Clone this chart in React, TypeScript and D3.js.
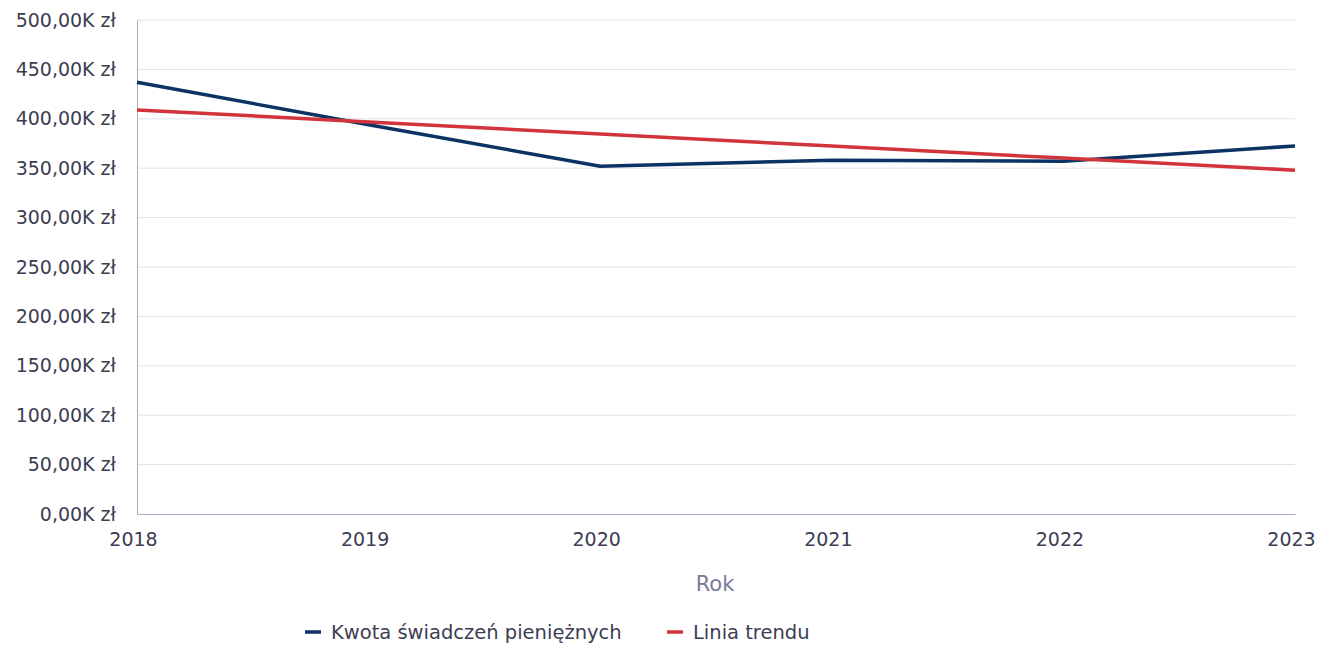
import * as d3 from "d3";
import { useEffect, useRef } from "react";

const years = [2018, 2019, 2020, 2021, 2022, 2023];
const amounts = [437000, 394000, 352000, 358000, 357000, 372500];
const trend = [409000, 396800, 384600, 372400, 360200, 348000];
const yTicks = [0, 50000, 100000, 150000, 200000, 250000, 300000, 350000, 400000, 450000, 500000];
const seriesNames = ["Kwota świadczeń pieniężnych", "Linia trendu"];
const seriesColors = ["#0b3363", "#d1343a"];

const W = 1329;
const H = 645;
const FONT = "'DejaVu Sans', sans-serif";

function App() {
	const ref = useRef<SVGSVGElement | null>(null);

	useEffect(() => {
		const svg = d3.select(ref.current);
		svg.selectAll("*").remove();

		const margin = { left: 137, right: 34, top: 20, bottom: 131 };
		const width = W - margin.left - margin.right;
		const height = H - margin.top - margin.bottom;

		const x = d3
			.scaleLinear()
			.domain([years[0], years[years.length - 1]])
			.range([0, width]);
		const y = d3.scaleLinear().domain([0, 500000]).range([height, 0]);

		const g = svg
			.append("g")
			.attr("transform", `translate(${margin.left},${margin.top})`);

		// grid
		g.selectAll(".grid")
			.data(yTicks.slice(1))
			.enter()
			.append("line")
			.attr("x1", 0)
			.attr("x2", width)
			.attr("y1", (d) => y(d))
			.attr("y2", (d) => y(d))
			.attr("stroke", "#e1e1ec")
			.attr("stroke-width", 1);

		const fmt = (d: number) =>
			(d / 1000).toFixed(2).replace(".", ",") + "K zł";

		const yAxis = g
			.append("g")
			.call(
				d3
					.axisLeft(y)
					.tickValues(yTicks)
					.tickSize(0)
					.tickPadding(21)
					.tickFormat((d) => fmt(d as number))
			);
		yAxis.select(".domain").attr("stroke", "#a9abc8");
		yAxis
			.selectAll("text")
			.attr("fill", "#3b3d52")
			.attr("font-size", 19)
			.attr("font-family", FONT);

		const xAxis = g
			.append("g")
			.attr("transform", `translate(0,${height})`)
			.call(
				d3
					.axisBottom(x)
					.tickValues(years)
					.tickSize(0)
					.tickPadding(19)
					.tickFormat((d) => String(d))
			);
		xAxis.select(".domain").attr("stroke", "#a9abc8");
		xAxis
			.selectAll("text")
			.attr("fill", "#3b3d52")
			.attr("font-size", 19)
			.attr("dx", -4)
			.attr("font-family", FONT);

		g.append("text")
			.attr("x", width / 2 - 1)
			.attr("y", height + 77)
			.attr("text-anchor", "middle")
			.attr("fill", "#7a7b9c")
			.attr("font-size", 21)
			.attr("font-family", FONT)
			.text("Rok");

		const line = d3
			.line<number>()
			.x((_, i) => x(years[i]))
			.y((d) => y(d));

		[amounts, trend].forEach((vals, i) => {
			g.append("path")
				.datum(vals)
				.attr("d", line)
				.attr("fill", "none")
				.attr("stroke", seriesColors[i])
				.attr("stroke-width", 3.5)
				.attr("stroke-linejoin", "round");
		});

		// legend
		const legend = svg.append("g").attr("transform", "translate(305,632)");
		const offsets = [0, 362];
		seriesNames.forEach((name, i) => {
			const item = legend
				.append("g")
				.attr("transform", `translate(${offsets[i]},0)`);
			item.append("line")
				.attr("x1", 0)
				.attr("x2", 16)
				.attr("stroke", seriesColors[i])
				.attr("stroke-width", 3.5);
			item.append("text")
				.attr("x", 26)
				.attr("dy", "0.35em")
				.attr("fill", "#3b3d52")
				.attr("font-size", 19.5)
				.attr("font-family", FONT)
				.text(name);
		});
	}, []);

	return (
		<svg
			ref={ref}
			width={W}
			height={H}
			style={{ position: "absolute", left: 0, top: 0, background: "#fff" }}
		/>
	);
}

export default App;
